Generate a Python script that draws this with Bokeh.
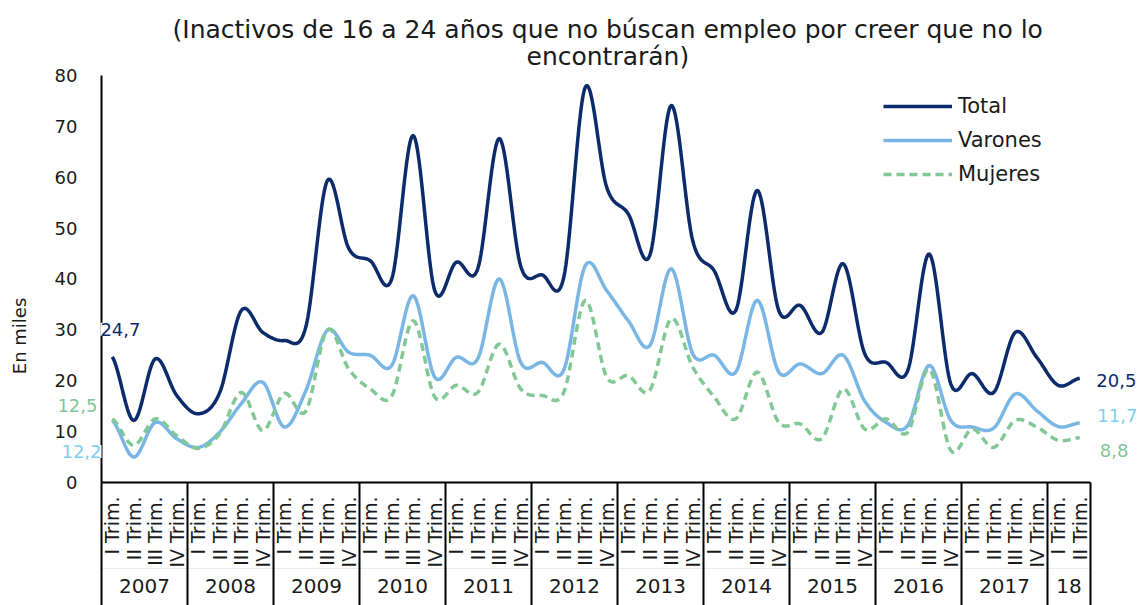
import numpy as np
from bokeh.plotting import figure
from bokeh.models import (FactorRange, Range1d, LinearAxis, FixedTicker, Legend,
                          LegendItem, Label, Title)
from bokeh.embed import file_html
from bokeh.resources import INLINE

# ---------------- data ----------------
years = ["2007", "2008", "2009", "2010", "2011", "2012", "2013", "2014",
         "2015", "2016", "2017", "18"]
quarters = ["I Trim.", "II Trim.", "III Trim.", "IV Trim."]
quarters_per_year = [4, 4, 4, 4, 4, 4, 4, 4, 4, 4, 4, 2]

total = [24.7, 12.2, 24.3, 17.1, 13.5, 17.7, 33.8, 29.5, 27.9, 30.5,
         59.3, 46.0, 43.6, 40.0, 68.2, 37.7, 43.3, 42.0, 67.6, 42.5,
         40.8, 40.3, 77.7, 58.0, 52.8, 44.6, 74.1, 47.5, 41.6, 33.8,
         57.4, 33.8, 34.8, 29.5, 43.0, 25.3, 23.6, 22.0, 44.9, 19.4,
         21.4, 17.7, 29.5, 24.6, 19.1, 20.5]
varones = [12.2, 5.0, 11.8, 8.6, 6.9, 9.9, 15.5, 19.7, 10.9, 18.0,
           29.9, 25.6, 25.0, 23.0, 36.7, 20.7, 24.6, 24.3, 40.0, 23.6,
           23.6, 22.1, 42.6, 37.7, 31.8, 26.9, 42.0, 25.3, 25.0, 21.7,
           35.8, 21.7, 23.3, 21.4, 25.0, 16.0, 11.8, 11.2, 23.0, 12.2,
           10.9, 10.7, 17.4, 14.1, 11.0, 11.7]
mujeres = [12.5, 7.3, 12.5, 9.2, 6.7, 9.6, 17.7, 10.2, 17.5, 14.0,
           30.0, 22.3, 18.4, 17.0, 31.8, 16.8, 19.1, 17.7, 27.2, 18.4,
           17.1, 17.7, 35.8, 20.7, 21.0, 18.1, 32.2, 22.7, 16.8, 12.5,
           21.7, 11.8, 11.5, 8.6, 18.4, 10.5, 12.5, 9.9, 22.3, 6.3,
           10.5, 6.9, 12.2, 10.9, 8.3, 8.8]
y_ticks = [0, 10, 20, 30, 40, 50, 60, 70, 80]
title_lines = ["(Inactivos de 16 a 24 años que no búscan empleo por creer que no lo",
               "encontrarán)"]

periods = [(y, quarters[k]) for y, n in zip(years, quarters_per_year) for k in range(n)]
N = len(periods)
boundaries = [float(b) for b in np.concatenate([[0], np.cumsum(quarters_per_year)])]

# ---------------- styles ----------------
FONT = "DejaVu Sans"
C_TOT = "#0c2b6b"
C_VAR = "#7ab6e4"
C_VAR_TXT = "#7fcff2"
C_MUJ = "#82c796"
TXT = "#1a1a1a"


def smooth(vals, n=20):
    """Excel-like smoothed line (Catmull-Rom Bezier) in the factor range's
    synthetic coordinates (category i centred at i + 0.5)."""
    v = np.asarray(vals, float)
    xs, ys = [], []
    M = len(v)
    for i in range(M - 1):
        p0 = v[i - 1] if i > 0 else v[i]
        p1, p2 = v[i], v[i + 1]
        p3 = v[i + 2] if i + 2 < M else v[i + 1]
        c1 = p1 + (p2 - p0) / 6.0
        c2 = p2 - (p3 - p1) / 6.0
        t = np.linspace(0, 1, n, endpoint=(i == M - 2))
        y = (1 - t) ** 3 * p1 + 3 * (1 - t) ** 2 * t * c1 + 3 * (1 - t) * t ** 2 * c2 + t ** 3 * p2
        xs.extend((i + 0.5 + t).tolist())
        ys.extend(y.tolist())
    return xs, ys


# factor range padded on both sides so value tags / tick labels stay inside
x_range = FactorRange(*periods, range_padding=2.465, range_padding_units="absolute",
                      group_padding=0, factor_padding=0, subgroup_padding=0)

p = figure(x_range=x_range, y_range=Range1d(-24.18, 81.77), width=1143, height=605,
           output_backend="svg", toolbar_location=None,
           min_border_left=48, min_border_right=0, min_border_top=66,
           min_border_bottom=0, background_fill_color="white",
           border_fill_color="white")
p.title = None
p.outline_line_color = None
p.xgrid.visible = False
p.ygrid.visible = False

# title (two lines; later-added titles sit further from the plot)
p.add_layout(Title(text=title_lines[1], align="left", offset=478, text_font=FONT,
                   text_font_size="25px", text_font_style="normal",
                   text_color=TXT, standoff=-9), "above")
p.add_layout(Title(text=title_lines[0], align="left", offset=124, text_font=FONT,
                   text_font_size="25px", text_font_style="normal",
                   text_color=TXT, standoff=1), "above")

# left panel axis: only carries the axis title
yl = p.yaxis[0]
yl.ticker = FixedTicker(ticks=[])
yl.axis_line_color = None
yl.major_tick_line_color = None
yl.minor_tick_line_color = None
yl.axis_label = "En miles"
yl.axis_label_text_font = FONT
yl.axis_label_text_font_size = "18px"
yl.axis_label_text_font_style = "normal"
yl.axis_label_text_color = TXT
yl.axis_label_standoff = 19

# value axis pinned at the first category edge
ya = LinearAxis(fixed_location=0, bounds=(0, 80), ticker=FixedTicker(ticks=y_ticks),
                major_tick_line_color=None, minor_tick_line_color=None,
                axis_line_width=2, axis_line_color="black",
                major_label_text_font=FONT, major_label_text_font_size="18px",
                major_label_text_color=TXT, major_label_standoff=18)
p.add_layout(ya, "left")

# faint rule between quarter and year labels
rule = LinearAxis(fixed_location=-16.9, bounds=(0, N), ticker=FixedTicker(ticks=[]),
                  axis_line_color="#ececec", axis_line_width=1,
                  major_tick_line_color=None, minor_tick_line_color=None)
p.add_layout(rule, "below")

# x categorical axis pinned at y = 0 (quarters rotated, years as group labels)
xa = p.xaxis[0]
xa.fixed_location = 0
xa.bounds = (0, N)
xa.major_tick_line_color = None
xa.minor_tick_line_color = None
xa.axis_line_width = 2
xa.axis_line_color = "black"
xa.major_label_orientation = np.pi / 2
xa.major_label_text_font = FONT
xa.major_label_text_font_size = "19px"
xa.major_label_text_color = TXT
xa.major_label_standoff = 8
xa.group_text_font = FONT
xa.group_text_font_size = "20px"
xa.group_text_font_style = "normal"
xa.group_text_color = TXT
xa.separator_line_color = None

# year separators: long ticks of an axis pinned at y = 0
sep = LinearAxis(fixed_location=0,
                 ticker=FixedTicker(ticks=boundaries),
                 major_tick_in=0, major_tick_out=124,
                 major_tick_line_width=2, major_tick_line_color="black",
                 minor_tick_line_color=None, axis_line_color=None,
                 major_label_text_font_size="0px",
                 major_label_text_color=None)
p.add_layout(sep, "below")

# lines
xt, yt = smooth(total)
xv, yv = smooth(varones)
xm, ym = smooth(mujeres)
r_tot = p.line(xt, yt, line_color=C_TOT, line_width=3.5, line_join="round")
r_var = p.line(xv, yv, line_color=C_VAR, line_width=3.5, line_join="round")
r_muj = p.line(xm, ym, line_color=C_MUJ, line_width=3.5, line_dash="8 5")

legend = Legend(items=[LegendItem(label="Total", renderers=[r_tot]),
                       LegendItem(label="Varones", renderers=[r_var]),
                       LegendItem(label="Mujeres", renderers=[r_muj])],
                location=(835, 419), orientation="vertical",
                border_line_color=None, background_fill_alpha=0,
                glyph_width=69, glyph_height=24, label_height=24,
                label_standoff=6, spacing=10, padding=0, margin=0,
                label_text_font=FONT, label_text_font_size="21px",
                label_text_color=TXT)
p.add_layout(legend)


def fmt(v):
    return f"{v:.1f}".replace(".", ",")


# first / last values of each series
tags = [
    (0.88, total[0] + 5.4, fmt(total[0]), C_TOT),
    (-1.12, mujeres[0] + 2.6, fmt(mujeres[0]), C_MUJ),
    (-0.93, varones[0] - 6.1, fmt(varones[0]), C_VAR_TXT),
    (N + 1.2, total[-1] - 0.5, fmt(total[-1]), C_TOT),
    (N + 1.25, varones[-1] + 1.5, fmt(varones[-1]), C_VAR_TXT),
    (N + 1.1, mujeres[-1] - 2.5, fmt(mujeres[-1]), C_MUJ),
]
for lx, ly, txt, col in tags:
    p.add_layout(Label(x=lx, y=ly, text=txt,
                       text_color=col, text_font=FONT, text_font_size="18px",
                       text_align="center", text_baseline="middle",
                       background_fill_color="white"))

open("out.html", "w").write(file_html(p, INLINE))
